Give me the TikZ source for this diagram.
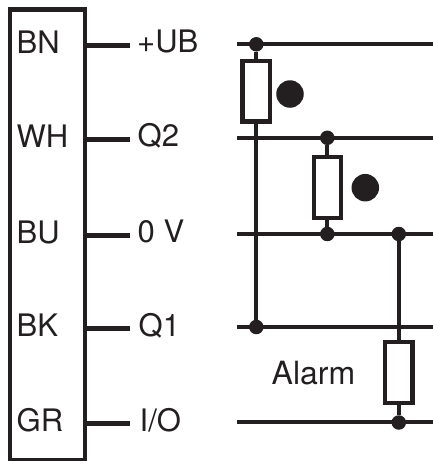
\documentclass[tikz,border=0pt]{standalone}
\usepackage{fontspec}
\setmainfont{TeX Gyre Heros}
\definecolor{ink}{HTML}{231F20}
\tikzset{
  wire/.style={draw=ink,line width=4.3pt},
  lead/.style={draw=ink,line width=5pt},
  resistor/.style={draw=ink,line width=4.3pt,fill=white,minimum width=27.5pt,minimum height=60.5pt,inner sep=0pt,outer sep=0pt},
  junction/.style={circle,fill=ink,minimum size=14.5pt,inner sep=0pt},
  marker/.style={circle,fill=ink,minimum size=27.5pt,inner sep=0pt},
  lab/.style={text=ink,font=\fontsize{31}{31}\selectfont,anchor=base west,inner sep=0pt}
}
\begin{document}
\begin{tikzpicture}[x=1pt,y=-1pt]
\useasboundingbox (0,0) rectangle (433,461);
\clip (0,0) rectangle (433,461);
% connector block
\node[draw=ink,line width=4.3pt,minimum width=75pt,minimum height=450.5pt,inner sep=0pt,outer sep=2pt,anchor=north west] (block) at (8,7.5) {};
% colour labels
\node[lab] (bn) at (16.5,53) {BN};
\node[lab] (wh) at (16.5,147) {WH};
\node[lab] (bu) at (16.5,243) {BU};
\node[lab] (bk) at (16.5,336) {BK};
\node[lab] (gr) at (16.5,431) {GR};
% signal labels
\node[lab] (ub) at (137,52.5) {+UB};
\node[lab] (q2) at (137.5,146.5) {Q2};
\node[lab] (ov) at (137.5,242.5) {0 V};
\node[lab] (q1) at (138.5,336) {Q1};
\node[lab] (io) at (139.5,431) {I/O};
% stubs
\coordinate (s1) at (130,45);
\coordinate (s2) at (130,139);
\coordinate (s3) at (130,235);
\coordinate (s4) at (130,328);
\coordinate (s5) at (130,423);
\draw[lead] (block.east |- s1) -- (s1);
\draw[lead] (block.east |- s2) -- (s2);
\draw[lead] (block.east |- s3) -- (s3);
\draw[lead] (block.east |- s4) -- (s4);
\draw[lead] (block.east |- s5) -- (s5);
% rails
\coordinate (a1) at (237,44.3);  \coordinate (b1) at (433,44.3);
\coordinate (a2) at (237,137.8); \coordinate (b2) at (433,137.8);
\coordinate (a3) at (237,234);   \coordinate (b3) at (433,234);
\coordinate (a4) at (237,327);   \coordinate (b4) at (433,327);
\coordinate (a5) at (237,422);   \coordinate (b5) at (433,422);
\draw[wire] (a1) -- (b1);
\draw[wire] (a2) -- (b2);
\draw[wire] (a3) -- (b3);
\draw[wire] (a4) -- (b4);
\draw[wire] (a5) -- (b5);
% junctions
\node[junction] (j1) at (256.3,44.3) {};
\node[junction] (j2) at (256.3,327) {};
\node[junction] (j3) at (327.3,137.8) {};
\node[junction] (j4) at (327.3,234) {};
\node[junction] (j5) at (398.8,234) {};
\node[junction] (j6) at (398.8,422.5) {};
% vertical wires and resistors
\draw[wire] (j1) -- (j2);
\draw[wire] (j3) -- (j4);
\draw[wire] (j5) -- (j6);
\node[resistor] (r1) at (256.3,91.3) {};
\node[resistor] (r2) at (327.5,187.5) {};
\node[resistor] (r3) at (398.8,372.5) {};
% markers
\node[marker] (m1) at (290,94) {};
\node[marker] (m2) at (365.3,187.7) {};
\node[lab,font=\fontsize{32}{32}\selectfont] (alarm) at (271.5,384) {Alarm};
\end{tikzpicture}
\end{document}
